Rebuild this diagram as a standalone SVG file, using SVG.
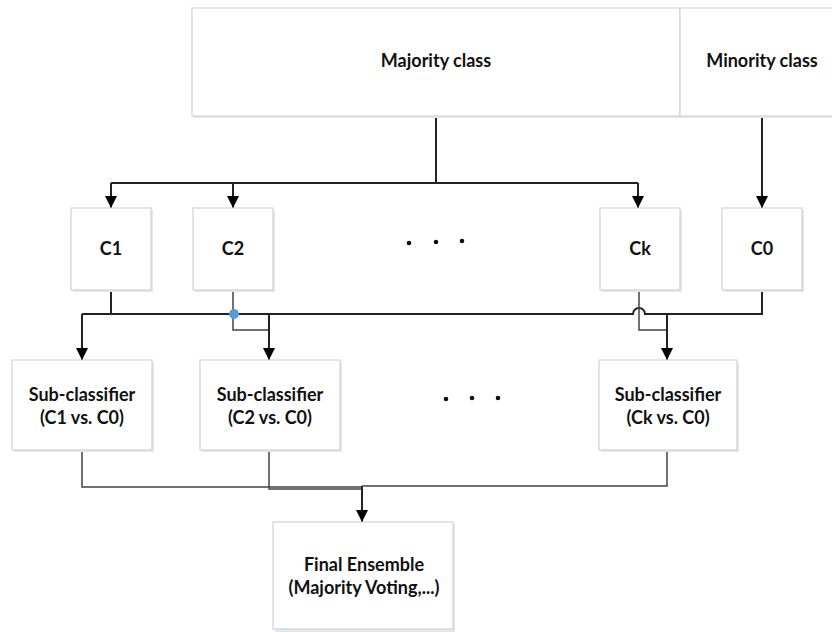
<svg xmlns="http://www.w3.org/2000/svg" width="832" height="632" viewBox="0 0 832 632">
<style>
.box{fill:#ffffff;stroke:#d2d2d2;stroke-width:1.2}
.sh{fill:#e3e7ee}
.t{font-family:Lato,"Liberation Sans",sans-serif;font-weight:bold;font-size:18px;fill:#111;text-anchor:middle}
.ln{fill:none;stroke:#222;stroke-width:2}
.lt{fill:none;stroke:#444;stroke-width:1.5}
.dot{fill:#111}
</style>
<defs>
<marker id="ar" markerWidth="12" markerHeight="12" viewBox="0 0 12 12" refX="12" refY="6" orient="auto" markerUnits="userSpaceOnUse">
<path d="M0,0 L12,6 L0,12 Z" fill="#000"/>
</marker>
</defs>
<rect width="832" height="632" fill="#fff"/>
<g id="connectors">
<path class="ln" d="M436,116 V183"/>
<path class="ln" d="M111,183 H638"/>
<path class="ln" d="M111,183 V208" marker-end="url(#ar)"/>
<path class="ln" d="M233,183 V208" marker-end="url(#ar)"/>
<path class="ln" d="M638,183 V208" marker-end="url(#ar)"/>
<path class="ln" d="M762,116 V208" marker-end="url(#ar)"/>
<path class="ln" d="M111,290 V314"/>
<path class="ln" d="M762,290 V314 H645 A6,6 0 0 0 633,314 H82"/>
<path class="ln" d="M82,314 V360" marker-end="url(#ar)"/>
<path class="lt" d="M233,290 V330 H269"/>
<path class="ln" d="M269,314 V360" marker-end="url(#ar)"/>
<path class="lt" d="M639,290 V330 H667"/>
<path class="ln" d="M667,314 V360" marker-end="url(#ar)"/>
<circle cx="234" cy="314" r="5" fill="#5b9bd5"/>
<path class="lt" d="M82,451 V487 H362"/>
<path class="lt" d="M269,451 V489 H362"/>
<path class="lt" d="M667,451 V486 H362"/>
<path class="ln" d="M362,486 V522" marker-end="url(#ar)"/>
</g>
<g id="majority">
<rect class="sh" x="194" y="10" width="488" height="108"/>
<rect class="box" x="192" y="8" width="488" height="108"/>
<text class="t" x="436" y="67">Majority class</text>
</g>
<g id="minority">
<rect class="sh" x="682" y="10" width="152" height="108"/>
<rect class="box" x="680" y="8" width="154" height="108"/>
<text class="t" x="762" y="67">Minority class</text>
</g>
<g id="c1">
<rect class="sh" x="73" y="210" width="80" height="82"/>
<rect class="box" x="71" y="208" width="80" height="82"/>
<text class="t" x="111" y="255">C1</text>
</g>
<g id="c2">
<rect class="sh" x="195" y="210" width="80" height="82"/>
<rect class="box" x="193" y="208" width="80" height="82"/>
<text class="t" x="233" y="255">C2</text>
</g>
<g id="dots1">
<circle class="dot" cx="409" cy="243" r="2.3"/>
<circle class="dot" cx="436" cy="242" r="2.3"/>
<circle class="dot" cx="462" cy="241" r="2.3"/>
</g>
<g id="ck">
<rect class="sh" x="602" y="210" width="80" height="82"/>
<rect class="box" x="600" y="208" width="80" height="82"/>
<text class="t" x="640" y="255">Ck</text>
</g>
<g id="c0">
<rect class="sh" x="724" y="210" width="80" height="82"/>
<rect class="box" x="722" y="208" width="80" height="82"/>
<text class="t" x="762" y="255">C0</text>
</g>
<g id="sub1">
<rect class="sh" x="14" y="362" width="140" height="90"/>
<rect class="box" x="12" y="360" width="140" height="90"/>
<text class="t" x="82" y="401">Sub-classifier</text>
<text class="t" x="82" y="424">(C1 vs. C0)</text>
</g>
<g id="sub2">
<rect class="sh" x="202" y="362" width="140" height="90"/>
<rect class="box" x="200" y="360" width="140" height="90"/>
<text class="t" x="270" y="401">Sub-classifier</text>
<text class="t" x="270" y="424">(C2 vs. C0)</text>
</g>
<g id="dots2">
<circle class="dot" cx="446" cy="399" r="2.3"/>
<circle class="dot" cx="472" cy="398" r="2.3"/>
<circle class="dot" cx="498" cy="398" r="2.3"/>
</g>
<g id="subk">
<rect class="sh" x="601" y="362" width="138" height="90"/>
<rect class="box" x="599" y="360" width="138" height="90"/>
<text class="t" x="668" y="401">Sub-classifier</text>
<text class="t" x="668" y="424">(Ck vs. C0)</text>
</g>
<g id="final">
<rect class="sh" x="275" y="524" width="180" height="108"/>
<rect class="box" x="273" y="522" width="180" height="107"/>
<text class="t" x="364" y="571">Final Ensemble</text>
<text class="t" x="364" y="594">(Majority Voting,...)</text>
</g>
</svg>
